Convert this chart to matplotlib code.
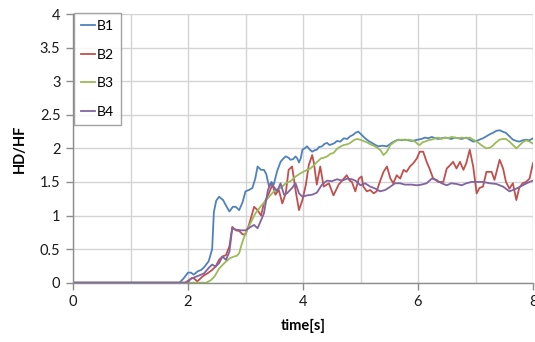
import numpy as np
import matplotlib
matplotlib.use("Agg")
import matplotlib.pyplot as plt
from matplotlib.ticker import MultipleLocator

plt.rcParams['font.family'] = ['Lato', 'DejaVu Sans']

# (time [s], HD/HF) samples for each series
b1_pts = [(0, 0), (1.85, 0), (1.92, 0.06), (2.0, 0.15), (2.05, 0.15), (2.1, 0.12), (2.17, 0.17),
          (2.23, 0.19), (2.28, 0.23), (2.36, 0.32), (2.42, 0.5), (2.45, 1.05), (2.49, 1.22),
          (2.54, 1.28), (2.61, 1.23), (2.66, 1.15), (2.72, 1.06), (2.78, 1.13), (2.83, 1.13),
          (2.89, 1.08), (2.95, 1.2), (3.0, 1.36), (3.06, 1.38), (3.12, 1.41), (3.17, 1.55),
          (3.21, 1.73), (3.27, 1.68), (3.32, 1.68), (3.36, 1.62), (3.41, 1.43), (3.45, 1.5),
          (3.49, 1.46), (3.55, 1.66), (3.61, 1.80), (3.66, 1.85), (3.70, 1.88), (3.75, 1.86),
          (3.78, 1.83), (3.83, 1.84), (3.87, 1.88), (3.90, 1.85), (3.93, 1.79), (3.96, 1.85),
          (3.99, 1.98), (4.03, 2.0), (4.07, 2.03), (4.12, 1.98), (4.16, 1.95), (4.20, 1.97),
          (4.24, 1.98), (4.28, 2.02), (4.33, 2.03), (4.38, 2.07), (4.42, 2.08), (4.46, 2.05),
          (4.50, 2.06), (4.55, 2.08), (4.59, 2.11), (4.65, 2.1), (4.71, 2.15), (4.77, 2.14),
          (4.82, 2.18), (4.87, 2.2), (4.91, 2.23), (4.96, 2.25), (5.02, 2.2), (5.08, 2.15),
          (5.14, 2.11), (5.2, 2.08), (5.26, 2.05), (5.31, 2.03), (5.38, 2.04), (5.46, 2.03),
          (5.54, 2.08), (5.6, 2.11), (5.66, 2.13), (5.72, 2.12), (5.77, 2.13), (5.83, 2.12),
          (5.89, 2.11), (5.95, 2.12), (6.0, 2.13), (6.06, 2.14), (6.12, 2.16), (6.18, 2.15),
          (6.24, 2.17), (6.3, 2.15), (6.35, 2.14), (6.41, 2.15), (6.47, 2.16), (6.53, 2.15),
          (6.58, 2.14), (6.64, 2.16), (6.7, 2.15), (6.76, 2.14), (6.84, 2.16), (6.9, 2.13),
          (6.96, 2.10), (7.02, 2.11), (7.07, 2.13), (7.13, 2.15), (7.19, 2.18), (7.25, 2.21),
          (7.3, 2.23), (7.36, 2.26), (7.42, 2.27), (7.47, 2.25), (7.53, 2.23), (7.59, 2.18),
          (7.65, 2.13), (7.71, 2.11), (7.76, 2.10), (7.82, 2.12), (7.88, 2.13), (7.94, 2.12),
          (8.0, 2.15)]

b2_pts = [(0, 0), (1.95, 0), (2.02, 0.04), (2.07, 0.07), (2.11, 0.06), (2.16, 0.02), (2.20, 0.05),
          (2.25, 0.09), (2.30, 0.12), (2.34, 0.14), (2.42, 0.19), (2.48, 0.24), (2.54, 0.34),
          (2.60, 0.39), (2.66, 0.41), (2.72, 0.54), (2.77, 0.83), (2.83, 0.78), (2.89, 0.77),
          (2.95, 0.72), (3.0, 0.72), (3.06, 0.86), (3.15, 1.13), (3.21, 1.08), (3.27, 1.0),
          (3.32, 1.18), (3.38, 1.28), (3.47, 1.46), (3.52, 1.31), (3.58, 1.38), (3.64, 1.18),
          (3.70, 1.33), (3.75, 1.68), (3.81, 1.73), (3.87, 1.38), (3.93, 1.08), (3.99, 1.23),
          (4.05, 1.46), (4.10, 1.75), (4.16, 1.9), (4.19, 1.78), (4.24, 1.46), (4.30, 1.73),
          (4.36, 1.43), (4.45, 1.48), (4.53, 1.30), (4.62, 1.46), (4.71, 1.55), (4.76, 1.6),
          (4.81, 1.52), (4.85, 1.50), (4.91, 1.36), (4.97, 1.55), (5.02, 1.58), (5.05, 1.43),
          (5.11, 1.36), (5.17, 1.38), (5.23, 1.33), (5.28, 1.36), (5.34, 1.51), (5.40, 1.65),
          (5.46, 1.73), (5.52, 1.55), (5.57, 1.48), (5.63, 1.6), (5.69, 1.55), (5.75, 1.68),
          (5.80, 1.65), (5.86, 1.73), (5.92, 1.78), (5.98, 1.85), (6.03, 1.95), (6.09, 1.95),
          (6.15, 1.80), (6.20, 1.7), (6.26, 1.56), (6.35, 1.5), (6.44, 1.5), (6.50, 1.70),
          (6.56, 1.75), (6.61, 1.8), (6.67, 1.70), (6.73, 1.8), (6.79, 1.68), (6.84, 1.78),
          (6.90, 1.98), (6.96, 1.73), (7.02, 1.33), (7.07, 1.41), (7.13, 1.43), (7.19, 1.65),
          (7.28, 1.65), (7.33, 1.53), (7.42, 1.83), (7.48, 1.70), (7.53, 1.50), (7.59, 1.40),
          (7.65, 1.48), (7.71, 1.23), (7.76, 1.41), (7.82, 1.48), (7.88, 1.50), (7.94, 1.55),
          (8.0, 1.78)]

b3_pts = [(0, 0), (2.0, 0), (2.32, 0), (2.40, 0.04), (2.46, 0.09), (2.54, 0.21), (2.63, 0.29),
          (2.72, 0.36), (2.80, 0.39), (2.85, 0.40), (2.89, 0.44), (2.94, 0.59), (3.0, 0.74),
          (3.05, 0.82), (3.09, 0.89), (3.17, 1.03), (3.26, 1.13), (3.31, 1.18), (3.36, 1.23),
          (3.44, 1.31), (3.52, 1.38), (3.61, 1.41), (3.70, 1.48), (3.78, 1.51), (3.87, 1.58),
          (3.96, 1.63), (4.07, 1.68), (4.13, 1.70), (4.19, 1.75), (4.25, 1.80), (4.31, 1.85),
          (4.36, 1.86), (4.42, 1.88), (4.48, 1.92), (4.53, 1.93), (4.60, 2.0), (4.66, 2.03),
          (4.71, 2.05), (4.77, 2.06), (4.82, 2.08), (4.88, 2.12), (4.94, 2.14), (4.99, 2.13),
          (5.05, 2.11), (5.11, 2.09), (5.17, 2.06), (5.23, 2.04), (5.29, 2.01), (5.35, 1.97),
          (5.40, 1.90), (5.46, 1.95), (5.52, 2.05), (5.58, 2.09), (5.64, 2.12), (5.72, 2.13),
          (5.78, 2.12), (5.83, 2.13), (5.89, 2.12), (5.95, 2.1), (6.0, 2.06), (6.03, 2.05),
          (6.08, 2.09), (6.12, 2.1), (6.18, 2.12), (6.24, 2.13), (6.30, 2.15), (6.35, 2.16),
          (6.41, 2.14), (6.47, 2.16), (6.53, 2.15), (6.58, 2.17), (6.64, 2.16), (6.70, 2.15),
          (6.76, 2.16), (6.84, 2.15), (6.90, 2.16), (6.96, 2.13), (7.02, 2.10), (7.07, 2.07),
          (7.13, 2.03), (7.19, 2.0), (7.25, 2.01), (7.3, 2.04), (7.36, 2.09), (7.42, 2.13),
          (7.48, 2.14), (7.53, 2.14), (7.59, 2.10), (7.65, 2.05), (7.71, 2.0), (7.76, 2.04),
          (7.82, 2.09), (7.88, 2.12), (7.94, 2.10), (8.0, 2.07)]

b4_pts = [(0, 0), (1.95, 0), (2.0, 0.01), (2.05, 0.06), (2.14, 0.09), (2.23, 0.12), (2.28, 0.14),
          (2.36, 0.22), (2.42, 0.27), (2.48, 0.24), (2.54, 0.29), (2.60, 0.39), (2.66, 0.34),
          (2.72, 0.46), (2.77, 0.81), (2.83, 0.79), (2.92, 0.78), (3.0, 0.78), (3.09, 0.83),
          (3.15, 0.86), (3.21, 0.81), (3.26, 0.91), (3.32, 1.03), (3.36, 1.23), (3.39, 1.38),
          (3.44, 1.48), (3.49, 1.43), (3.55, 1.36), (3.61, 1.48), (3.67, 1.31), (3.72, 1.33),
          (3.81, 1.41), (3.87, 1.48), (3.93, 1.33), (3.99, 1.28), (4.07, 1.30), (4.16, 1.31),
          (4.24, 1.34), (4.33, 1.46), (4.42, 1.52), (4.50, 1.51), (4.59, 1.54), (4.68, 1.52),
          (4.77, 1.55), (4.85, 1.54), (4.91, 1.52), (5.0, 1.45), (5.08, 1.48), (5.17, 1.43),
          (5.26, 1.40), (5.34, 1.36), (5.43, 1.38), (5.52, 1.43), (5.60, 1.48), (5.69, 1.48),
          (5.77, 1.46), (5.89, 1.46), (5.98, 1.45), (6.06, 1.46), (6.15, 1.48), (6.24, 1.55),
          (6.32, 1.53), (6.41, 1.48), (6.50, 1.45), (6.58, 1.48), (6.67, 1.47), (6.76, 1.45),
          (6.84, 1.48), (6.93, 1.50), (7.02, 1.50), (7.13, 1.50), (7.25, 1.48), (7.36, 1.47),
          (7.48, 1.43), (7.59, 1.36), (7.71, 1.40), (7.82, 1.45), (7.94, 1.50), (8.0, 1.52)]

series_names = ["B1", "B2", "B3", "B4"]
series_colors = ["#4F81BD", "#C0504D", "#9BBB59", "#8064A2"]
x_ticks = [0, 2, 4, 6, 8]
y_ticks = [0, 0.5, 1, 1.5, 2, 2.5, 3, 3.5, 4]
y_tick_labels = ["0", "0.5", "1", "1.5", "2", "2.5", "3", "3.5", "4"]

W, H = 535, 342
fig = plt.figure(figsize=(W / 100, H / 100), dpi=100)
ax = fig.add_axes([73 / W, (H - 282.7) / H, 460 / W, 268.7 / H])

for pts, name, col in zip([b1_pts, b2_pts, b3_pts, b4_pts], series_names, series_colors):
    arr = np.array(pts)
    ax.plot(arr[:, 0], arr[:, 1], color=col, lw=1.3, label=name, solid_joinstyle='round')

ax.set_xlim(0, 8)
ax.set_ylim(0, 4)
ax.set_xticks(x_ticks)
ax.xaxis.set_minor_locator(MultipleLocator(1))
ax.set_yticks(y_ticks)
ax.set_yticklabels(y_tick_labels)

grid_col = "#d4d4d4"
ax.grid(True, which='both', color=grid_col, lw=1.0)
ax.set_axisbelow(True)
for side in ("top", "right"):
    ax.spines[side].set_visible(False)
for side in ("left", "bottom"):
    ax.spines[side].set_color("#8c8c8c")
    ax.spines[side].set_linewidth(1.0)

ax.tick_params(which='major', direction='out', length=5, width=1, color="#8c8c8c",
               labelsize=10.5, labelcolor="#1a1a1a", pad=4)
ax.tick_params(which='minor', length=0)

ax.set_xlabel("time[s]", fontsize=10.5, fontweight='bold', labelpad=7)
ax.set_ylabel("HD/HF", fontsize=10.5, fontweight='bold', labelpad=9)

leg = ax.legend(loc='upper left', bbox_to_anchor=(74 / W, 1 - 13 / H),
                bbox_transform=fig.transFigure, borderaxespad=0, fancybox=False,
                fontsize=10, handlelength=1.0, handletextpad=0.15, labelspacing=1.2,
                borderpad=0.5)
leg.get_frame().set_edgecolor("#8c8c8c")
leg.get_frame().set_linewidth(1.0)

fig.savefig("out.png", dpi=100)
